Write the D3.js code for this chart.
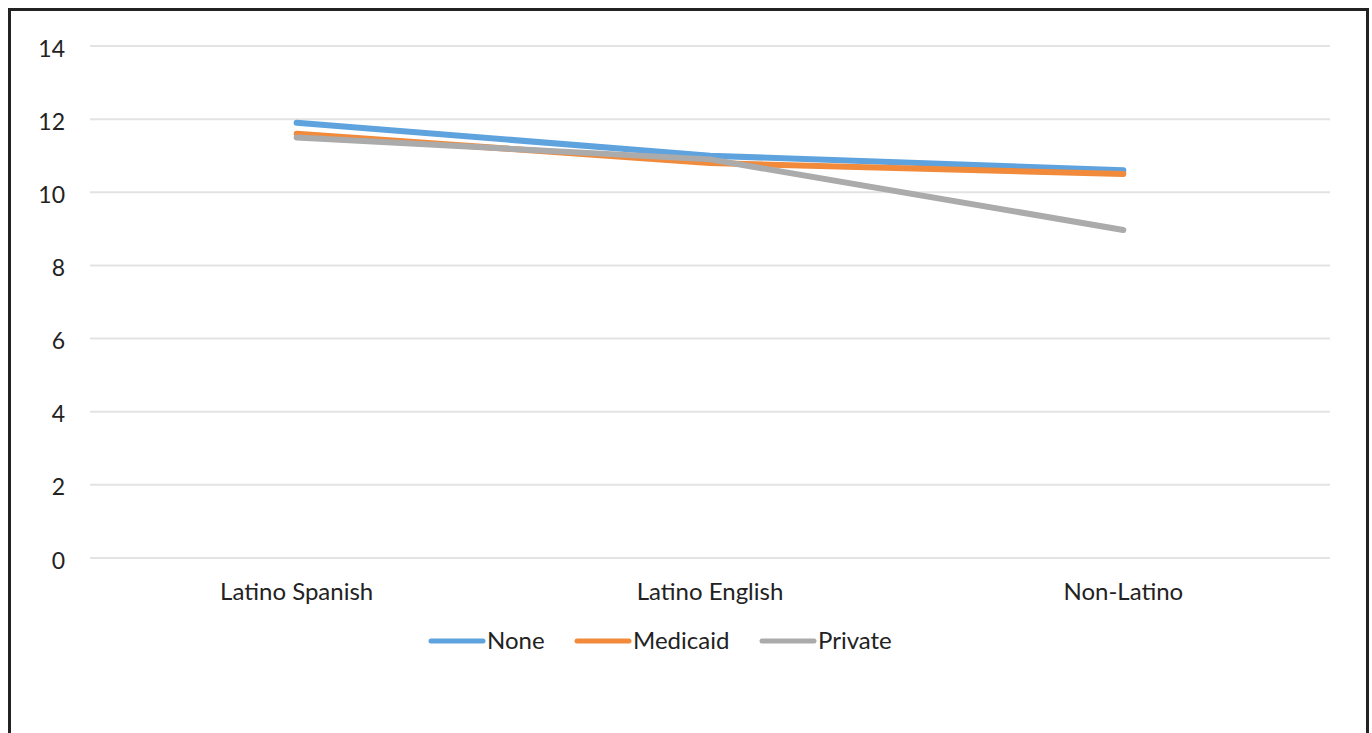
<!DOCTYPE html>
<html><head><meta charset="utf-8">
<script src="https://cdn.jsdelivr.net/npm/d3@7"></script>
<style>html,body{margin:0;padding:0;background:#fff;}svg{display:block;}</style>
</head><body>
<svg id="c" width="1372" height="733"></svg>
<script>
const categories = ["Latino Spanish", "Latino English", "Non-Latino"];
const seriesNames = ["None", "Medicaid", "Private"];
const noneValues = [11.9, 11.0, 10.6];
const medicaidValues = [11.6, 10.8, 10.5];
const privateValues = [11.5, 10.9, 8.97];
const yTicks = [0, 2, 4, 6, 8, 10, 12, 14];
const colors = ["#5FA3DE", "#F18A3A", "#ABABAB"];

const series = [
  {name: seriesNames[0], values: noneValues, color: colors[0]},
  {name: seriesNames[1], values: medicaidValues, color: colors[1]},
  {name: seriesNames[2], values: privateValues, color: colors[2]}
];

const svg = d3.select("#c");
const font = "Lato, 'Open Sans', sans-serif";

// frame
svg.append("path").attr("d", "M9.5,733 V9.5 H1367.5 V733")
  .attr("fill", "none").attr("stroke", "#222").attr("stroke-width", 3);

const x = d3.scaleBand().domain(categories).range([90, 1330]).padding(0);
const y = d3.scaleLinear().domain([0, 14]).range([558, 46]);

// gridlines
svg.append("g").selectAll("line").data(yTicks).join("line")
  .attr("x1", 90).attr("x2", 1330)
  .attr("y1", d => y(d)).attr("y2", d => y(d))
  .attr("stroke", "#e3e3e3").attr("stroke-width", 2);

// y axis labels
const yAxis = d3.axisLeft(y).tickValues(yTicks).tickSize(0).tickPadding(0);
const gy = svg.append("g").attr("transform", "translate(65,2)").call(yAxis);
gy.select(".domain").remove();
gy.selectAll("text").attr("font-family", font).attr("font-size", 23).attr("fill", "#222").attr("dy", "0.35em");

// x axis labels
const xAxis = d3.axisBottom(x).tickSize(0).tickPadding(0);
const gx = svg.append("g").attr("transform", "translate(0,580)").call(xAxis);
gx.select(".domain").remove();
gx.selectAll("text").attr("font-family", font).attr("font-size", 24).attr("fill", "#222").attr("dy", "0.85em");

// lines
const line = d3.line().x((d, i) => x(categories[i]) + x.bandwidth() / 2).y(d => y(d));
svg.append("g").selectAll("path").data(series).join("path")
  .attr("d", d => line(d.values))
  .attr("fill", "none").attr("stroke", d => d.color)
  .attr("stroke-width", 6).attr("stroke-linecap", "round").attr("stroke-linejoin", "round");

// legend
const legendX = [431, 577, 762];
const lg = svg.append("g").selectAll("g").data(series).join("g")
  .attr("transform", (d, i) => `translate(${legendX[i]},641)`);
lg.append("line").attr("x1", 0).attr("x2", 52).attr("y1", 0).attr("y2", 0)
  .attr("stroke", d => d.color).attr("stroke-width", 5).attr("stroke-linecap", "round");
lg.append("text").attr("x", 56).attr("y", 0).attr("dy", "0.35em")
  .attr("font-family", font).attr("font-size", 24).attr("fill", "#222")
  .text(d => d.name);
</script>
</body></html>
